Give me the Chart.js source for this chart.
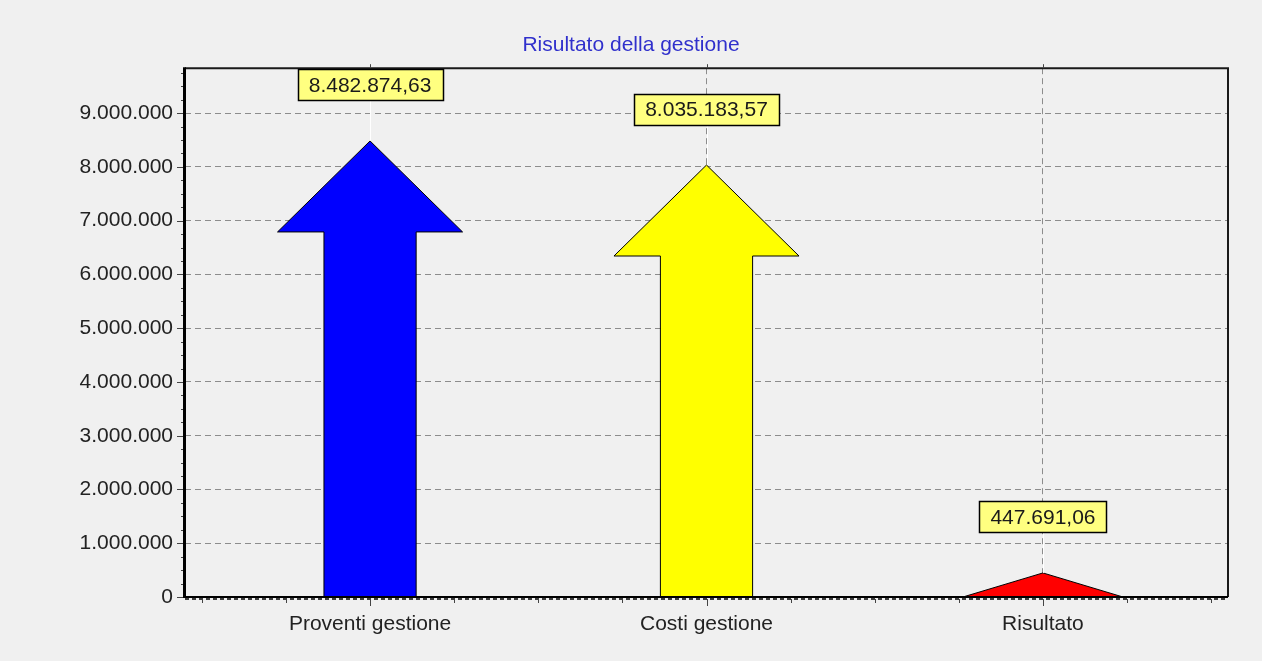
<!DOCTYPE html>
<html>
<head>
<meta charset="utf-8">
<script src="https://cdn.jsdelivr.net/npm/chart.js@4.4.1/dist/chart.umd.min.js"></script>
<style>
  html, body { margin: 0; padding: 0; background: #f0f0f0; }
  #wrap { width: 1262px; height: 661px; position: relative; }
</style>
</head>
<body>
<div id="wrap"><canvas id="c" width="1262" height="661"></canvas></div>
<script>
const chartTitle = 'Risultato della gestione';
const categories = ['Proventi gestione', 'Costi gestione', 'Risultato'];
const values = [8482874.63, 8035183.57, 447691.06];
const arrowColors = ['#0000ff', '#ffff00', '#ff0000'];
const yTickValues = [0, 1000000, 2000000, 3000000, 4000000, 5000000, 6000000, 7000000, 8000000, 9000000];
const xTickValues = [0, 1, 2];

function fmtInt(v) {
  return String(Math.round(v)).replace(/\B(?=(\d{3})+(?!\d))/g, '.');
}
function fmtDec(v) {
  const parts = v.toFixed(2).split('.');
  return parts[0].replace(/\B(?=(\d{3})+(?!\d))/g, '.') + ',' + parts[1];
}

const FONT = '"Liberation Sans", Arial, sans-serif';

const arrowPlugin = {
  id: 'arrows',
  beforeDraw(chart) {
    const ctx = chart.ctx;
    ctx.save();
    ctx.fillStyle = '#f0f0f0';
    ctx.fillRect(0, 0, chart.width, chart.height);
    ctx.restore();
  },
  afterDatasetsDraw(chart) {
    const ctx = chart.ctx;
    const xs = chart.scales.x, ys = chart.scales.y;
    const area = chart.chartArea;
    const meta = chart.getDatasetMeta(0);
    const y0 = ys.getPixelForValue(0);
    const unit = xs.getPixelForValue(1) - xs.getPixelForValue(0);
    const shaftHalf = 0.137 * unit;
    const headHalf = 0.275 * unit;
    const headLen = 91;
    ctx.save();
    meta.data.forEach((pt, i) => {
      const cx = pt.x, tip = pt.y;
      const h = y0 - tip;
      ctx.beginPath();
      if (h > headLen) {
        const hb = tip + headLen;
        ctx.moveTo(cx - shaftHalf, y0);
        ctx.lineTo(cx - shaftHalf, hb);
        ctx.lineTo(cx - headHalf, hb);
        ctx.lineTo(cx, tip);
        ctx.lineTo(cx + headHalf, hb);
        ctx.lineTo(cx + shaftHalf, hb);
        ctx.lineTo(cx + shaftHalf, y0);
      } else {
        const hw = headHalf * 0.865;
        ctx.moveTo(cx - hw, y0);
        ctx.lineTo(cx, tip);
        ctx.lineTo(cx + hw, y0);
      }
      ctx.closePath();
      ctx.fillStyle = arrowColors[i];
      ctx.fill();
      ctx.lineWidth = 1;
      ctx.strokeStyle = '#000';
      ctx.stroke();
    });
    ctx.restore();

    // axes frame
    ctx.save();
    ctx.strokeStyle = '#1a1a1a';
    ctx.lineWidth = 2;
    ctx.beginPath();
    ctx.moveTo(area.left, area.top);
    ctx.lineTo(area.right, area.top);
    ctx.lineTo(area.right, area.bottom);
    ctx.stroke();
    ctx.lineWidth = 3;
    ctx.strokeStyle = '#000';
    ctx.beginPath();
    ctx.moveTo(area.left - 0.5, area.top - 1);
    ctx.lineTo(area.left - 0.5, area.bottom + 1);
    ctx.stroke();
    // bottom axis
    ctx.lineWidth = 2;
    ctx.beginPath();
    ctx.moveTo(area.left, area.bottom);
    ctx.lineTo(area.right, area.bottom);
    ctx.stroke();
    ctx.setLineDash([4, 3]);
    ctx.lineWidth = 1.5;
    ctx.beginPath();
    ctx.moveTo(area.left, area.bottom + 2);
    ctx.lineTo(area.right, area.bottom + 2);
    ctx.stroke();
    ctx.setLineDash([]);
    // x ticks
    ctx.strokeStyle = '#444';
    ctx.lineWidth = 1;
    for (let v = -0.5; v <= 2.5001; v += 0.25) {
      const px = Math.round(xs.getPixelForValue(v)) + 0.5;
      const major = Math.abs(v - Math.round(v)) < 1e-6;
      ctx.beginPath();
      ctx.moveTo(px, area.bottom + 2);
      ctx.lineTo(px, area.bottom + (major ? 9 : 6));
      ctx.stroke();
      if (major) {
        ctx.beginPath();
        ctx.moveTo(px, area.top - 4);
        ctx.lineTo(px, area.top);
        ctx.stroke();
      }
    }
    // y ticks
    for (let v = 0; v <= ys.max; v += 250000) {
      const py = Math.round(ys.getPixelForValue(v)) + 0.5;
      const major = v % 1000000 === 0;
      ctx.beginPath();
      ctx.moveTo(area.left - (major ? 8 : 4), py);
      ctx.lineTo(area.left - 2, py);
      ctx.stroke();
    }
    ctx.restore();

    // value marks
    ctx.save();
    ctx.font = '21px ' + FONT;
    ctx.textAlign = 'center';
    ctx.textBaseline = 'middle';
    meta.data.forEach((pt, i) => {
      const txt = fmtDec(values[i]);
      const w = ctx.measureText(txt).width + 22;
      const hgt = 31;
      const cy = pt.y - 56;
      const cx = pt.x;
      ctx.strokeStyle = '#ffffff';
      ctx.lineWidth = 1;
      ctx.beginPath();
      ctx.moveTo(Math.round(cx) + 0.5, cy + hgt / 2);
      ctx.lineTo(Math.round(cx) + 0.5, pt.y);
      ctx.stroke();
      const bx = Math.round(cx - w / 2) + 0.5, by = Math.round(cy - hgt / 2) + 0.5;
      ctx.fillStyle = '#ffff80';
      ctx.fillRect(bx, by, Math.round(w), hgt);
      ctx.strokeStyle = '#000';
      ctx.lineWidth = 1.5;
      ctx.strokeRect(bx, by, Math.round(w), hgt);
      ctx.fillStyle = '#1a1a1a';
      ctx.fillText(txt, cx, cy + 1);
    });
    ctx.restore();
  }
};

new Chart(document.getElementById('c'), {
  type: 'scatter',
  data: {
    datasets: [{
      data: values.map((v, i) => ({ x: i, y: v })),
      pointRadius: 0,
      pointHoverRadius: 0,
      backgroundColor: arrowColors,
      borderColor: '#000'
    }]
  },
  options: {
    responsive: false,
    animation: false,
    events: [],
    layout: { padding: { left: 0, right: 0, top: 0, bottom: 0 } },
    plugins: {
      legend: { display: false },
      tooltip: { enabled: false },
      title: {
        display: true,
        text: chartTitle,
        color: '#3030cc',
        font: { family: FONT, size: 21, weight: 'normal' },
        padding: { top: 33, bottom: 10 }
      }
    },
    scales: {
      x: {
        type: 'linear',
        min: -0.55,
        max: 2.55,
        afterBuildTicks(scale) { scale.ticks = xTickValues.map(v => ({ value: v })); },
        afterFit(scale) { scale.height = 64; },
        ticks: {
          callback: (v) => categories[v] !== undefined ? categories[v] : '',
          color: '#222',
          font: { family: FONT, size: 21 },
          padding: 15,
          maxRotation: 0,
          autoSkip: false
        },
        grid: {
          color: '#8c8c8c',
          lineWidth: 1,
          drawTicks: false
        },
        border: { display: false, dash: [6, 4] }
      },
      y: {
        type: 'linear',
        min: 0,
        max: 9836000,
        afterBuildTicks(scale) { scale.ticks = yTickValues.map(v => ({ value: v })); },
        afterFit(scale) { scale.width = 185; },
        ticks: {
          callback: (v) => fmtInt(v),
          color: '#222',
          font: { family: FONT, size: 21 },
          padding: 12
        },
        grid: {
          color: '#8c8c8c',
          lineWidth: 1,
          drawTicks: false
        },
        border: { display: false, dash: [6, 4] }
      },
      yRight: {
        type: 'linear',
        position: 'right',
        min: 0,
        max: 9836000,
        afterFit(scale) { scale.width = 34; },
        ticks: { display: false },
        grid: { display: false, drawTicks: false },
        border: { display: false }
      }
    }
  },
  plugins: [arrowPlugin]
});
</script>
</body>
</html>
